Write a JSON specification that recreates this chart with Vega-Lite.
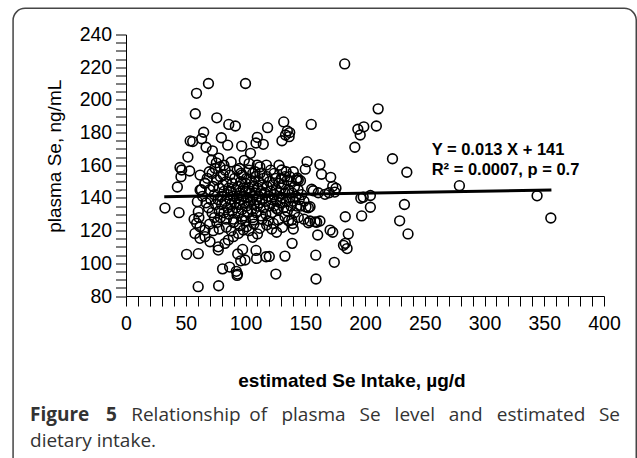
{
  "$schema": "https://vega.github.io/schema/vega-lite/v6.json",
  "autosize": {"type": "none"},
  "width": 478,
  "height": 261.5,
  "padding": {"left": 126, "top": 34.5, "right": 33, "bottom": 162},
  "background": "white",
  "config": {"view": {"stroke": null}, "font": "Liberation Sans"},
  "resolve": {"axis": {"x": "independent", "y": "independent"}},
  "datasets": {
    "pts": [
      {"intake":183,"plasma":222},{"intake":69,"plasma":210},{"intake":100,"plasma":210},{"intake":59,"plasma":204},{"intake":58,"plasma":191.5},{"intake":76,"plasma":189},{"intake":86,"plasma":185},{"intake":91.5,"plasma":184},{"intake":118.5,"plasma":183},{"intake":132,"plasma":186.5},{"intake":135,"plasma":181},{"intake":133.5,"plasma":178.5},{"intake":136.5,"plasma":177.5},{"intake":130.5,"plasma":175},{"intake":137,"plasma":180},{"intake":155,"plasma":185},{"intake":211,"plasma":194.5},{"intake":209.5,"plasma":184},{"intake":194,"plasma":182},{"intake":199,"plasma":183.5},{"intake":196,"plasma":178.5},{"intake":191.5,"plasma":171},{"intake":223,"plasma":164},{"intake":235,"plasma":155.7},{"intake":279,"plasma":147.5},{"intake":344,"plasma":141.3},{"intake":355.5,"plasma":127.7},{"intake":233,"plasma":136},{"intake":229,"plasma":126},{"intake":236,"plasma":118},{"intake":204.5,"plasma":141.5},{"intake":196.5,"plasma":139.8},{"intake":198.5,"plasma":140.5},{"intake":204.5,"plasma":134.3},{"intake":197.2,"plasma":129},{"intake":183.5,"plasma":128.5},{"intake":186,"plasma":118},{"intake":183.5,"plasma":112.2},{"intake":182,"plasma":111},{"intake":185,"plasma":109},{"intake":158.8,"plasma":105},{"intake":159,"plasma":90.4},{"intake":174.3,"plasma":100.6},{"intake":160.4,"plasma":117.3},{"intake":170.8,"plasma":120.3},{"intake":173,"plasma":119},{"intake":65,"plasma":180.2},{"intake":53.7,"plasma":174.9},{"intake":55.8,"plasma":174.5},{"intake":63.3,"plasma":176.2},{"intake":79.8,"plasma":176.8},{"intake":85.1,"plasma":172.3},{"intake":67,"plasma":171},{"intake":72.3,"plasma":168.8},{"intake":96.8,"plasma":171.7},{"intake":104.2,"plasma":167.3},{"intake":109.9,"plasma":177.1},{"intake":108.8,"plasma":173.6},{"intake":114.9,"plasma":172.8},{"intake":51.8,"plasma":165},{"intake":77.5,"plasma":164.4},{"intake":71.7,"plasma":163.2},{"intake":75.6,"plasma":161.5},{"intake":45.2,"plasma":158.6},{"intake":46.6,"plasma":157.1},{"intake":53.3,"plasma":156.5},{"intake":46,"plasma":153},{"intake":117.5,"plasma":160.1},{"intake":109.9,"plasma":160.1},{"intake":43,"plasma":146.7},{"intake":32.6,"plasma":133.8},{"intake":44.4,"plasma":131},{"intake":50.7,"plasma":105.5},{"intake":60.5,"plasma":105.9},{"intake":60.4,"plasma":85.7},{"intake":77.5,"plasma":86.3},{"intake":80.8,"plasma":96.6},{"intake":86.7,"plasma":97.7},{"intake":92.3,"plasma":95.1},{"intake":93.3,"plasma":93.4},{"intake":93,"plasma":92.6},{"intake":93.5,"plasma":105.7},{"intake":97.6,"plasma":108.5},{"intake":99.6,"plasma":102},{"intake":96,"plasma":101.5},{"intake":108.8,"plasma":107.9},{"intake":109.3,"plasma":103},{"intake":117.2,"plasma":104},{"intake":119.9,"plasma":104.2},{"intake":125.4,"plasma":93.4},{"intake":133,"plasma":104.4},{"intake":139,"plasma":112.2},{"intake":151.5,"plasma":162.2},{"intake":150,"plasma":157.6},{"intake":162.3,"plasma":160.4},{"intake":163.6,"plasma":154.5},{"intake":171.3,"plasma":152.6},{"intake":173,"plasma":147.1},{"intake":175.7,"plasma":145.9},{"intake":174.7,"plasma":143.6},{"intake":155.4,"plasma":145.3},{"intake":156.7,"plasma":144.4},{"intake":160.9,"plasma":143.2},{"intake":166.5,"plasma":142.2},{"intake":170,"plasma":143.2},{"intake":150.6,"plasma":134.4},{"intake":152.6,"plasma":134},{"intake":154,"plasma":134.6},{"intake":149,"plasma":127},{"intake":152.6,"plasma":124.8},{"intake":154,"plasma":125.9},{"intake":158.2,"plasma":125.4},{"intake":146,"plasma":150.5},{"intake":144.2,"plasma":151},{"intake":143.4,"plasma":152.2},
      {"intake":57.7,"plasma":118.3},{"intake":61.9,"plasma":115.3},{"intake":66.1,"plasma":116.3},{"intake":70.3,"plasma":113.2},{"intake":77.2,"plasma":110.1},{"intake":77.2,"plasma":108.1},{"intake":82.8,"plasma":112.2},{"intake":85.6,"plasma":114.2},{"intake":89.8,"plasma":116.3},{"intake":94,"plasma":118.3},{"intake":98.2,"plasma":120.4},{"intake":101,"plasma":122.4},{"intake":106.5,"plasma":126.5},{"intake":96.8,"plasma":126.9},{"intake":106,"plasma":115.9},{"intake":112,"plasma":121.4},{"intake":117.7,"plasma":123.4},{"intake":123.3,"plasma":124.4},{"intake":127.5,"plasma":126.5},{"intake":133,"plasma":128.5},{"intake":139.5,"plasma":124.4},{"intake":144.2,"plasma":128.1},{"intake":59.1,"plasma":124.5},{"intake":60.5,"plasma":131.6},{"intake":59.7,"plasma":137.7},{"intake":61.9,"plasma":122.4},{"intake":66.1,"plasma":120.4},{"intake":162.3,"plasma":125.9},{"intake":159.6,"plasma":125.1},{"intake":138.7,"plasma":126.5},{"intake":126,"plasma":133.6},{"intake":78.7,"plasma":159.1},{"intake":81.4,"plasma":154},{"intake":96.2,"plasma":155.1},{"intake":108,"plasma":156},{"intake":130.3,"plasma":157.1},{"intake":142.8,"plasma":151},{"intake":133,"plasma":153},
      {"intake":62,"plasma":144.9},{"intake":66.1,"plasma":149},{"intake":62,"plasma":154},{"intake":69.7,"plasma":156},{"intake":74.5,"plasma":158.1},{"intake":57,"plasma":127},{"intake":61,"plasma":128},{"intake":146,"plasma":135},{"intake":147,"plasma":142},{"intake":149,"plasma":138},
      {"intake":70,"plasma":124},{"intake":73,"plasma":120},{"intake":78,"plasma":121},{"intake":84,"plasma":122},{"intake":88,"plasma":120},{"intake":90,"plasma":125},{"intake":95,"plasma":123},{"intake":100,"plasma":126},{"intake":103,"plasma":120},{"intake":107,"plasma":124},{"intake":110,"plasma":118},{"intake":114,"plasma":127},{"intake":119,"plasma":126},{"intake":122,"plasma":121},{"intake":126,"plasma":119},{"intake":131,"plasma":122},{"intake":136,"plasma":126},{"intake":140,"plasma":121},
      {"intake":82,"plasma":160},{"intake":88,"plasma":162},{"intake":95,"plasma":158},{"intake":99,"plasma":163},{"intake":103,"plasma":161},{"intake":106,"plasma":155},{"intake":112,"plasma":159},{"intake":121,"plasma":157},{"intake":124,"plasma":155},{"intake":128,"plasma":160},{"intake":134,"plasma":156},{"intake":137,"plasma":153},{"intake":140,"plasma":156},
      {"intake":63,"plasma":145},{"intake":64,"plasma":141},{"intake":66,"plasma":149},{"intake":68,"plasma":152},{"intake":67,"plasma":137},{"intake":69,"plasma":134},{"intake":70,"plasma":145},{"intake":71,"plasma":139},{"intake":72,"plasma":131},{"intake":72,"plasma":155},{"intake":73,"plasma":147},{"intake":74,"plasma":128},{"intake":74,"plasma":142},{"intake":75,"plasma":136},{"intake":76,"plasma":151},{"intake":76,"plasma":125},{"intake":77,"plasma":139},{"intake":78,"plasma":146},{"intake":78,"plasma":132},{"intake":79,"plasma":153},{"intake":79,"plasma":128},{"intake":80,"plasma":141},{"intake":80,"plasma":136},{"intake":81,"plasma":148},{"intake":82,"plasma":131},{"intake":82,"plasma":144},{"intake":83,"plasma":138},{"intake":83,"plasma":157},{"intake":84,"plasma":127},{"intake":84,"plasma":150},{"intake":85,"plasma":134},{"intake":85,"plasma":142},{"intake":86,"plasma":146},{"intake":86,"plasma":130},{"intake":87,"plasma":139},{"intake":87,"plasma":154},{"intake":88,"plasma":136},{"intake":88,"plasma":144},{"intake":89,"plasma":132},{"intake":89,"plasma":149},{"intake":90,"plasma":141},{"intake":90,"plasma":127},{"intake":91,"plasma":137},{"intake":91,"plasma":152},{"intake":92,"plasma":145},{"intake":92,"plasma":134},{"intake":93,"plasma":140},{"intake":93,"plasma":157},{"intake":94,"plasma":131},{"intake":94,"plasma":147},{"intake":95,"plasma":143},{"intake":95,"plasma":136},{"intake":96,"plasma":150},{"intake":96,"plasma":139},{"intake":97,"plasma":133},{"intake":97,"plasma":154},{"intake":98,"plasma":146},{"intake":98,"plasma":141},{"intake":99,"plasma":137},{"intake":99,"plasma":129},{"intake":100,"plasma":149},{"intake":100,"plasma":144},{"intake":101,"plasma":135},{"intake":101,"plasma":152},{"intake":102,"plasma":140},{"intake":102,"plasma":131},{"intake":103,"plasma":146},{"intake":103,"plasma":157},{"intake":104,"plasma":138},{"intake":104,"plasma":143},{"intake":105,"plasma":133},{"intake":105,"plasma":150},{"intake":106,"plasma":141},{"intake":106,"plasma":128},{"intake":107,"plasma":147},{"intake":107,"plasma":136},{"intake":108,"plasma":153},{"intake":108,"plasma":143},{"intake":109,"plasma":139},{"intake":109,"plasma":131},{"intake":110,"plasma":146},{"intake":110,"plasma":135},{"intake":111,"plasma":150},{"intake":111,"plasma":141},{"intake":112,"plasma":137},{"intake":112,"plasma":155},{"intake":113,"plasma":144},{"intake":113,"plasma":129},{"intake":114,"plasma":148},{"intake":114,"plasma":139},{"intake":115,"plasma":134},{"intake":115,"plasma":152},{"intake":116,"plasma":143},{"intake":117,"plasma":138},{"intake":117,"plasma":130},{"intake":118,"plasma":147},{"intake":118,"plasma":153},{"intake":119,"plasma":141},{"intake":120,"plasma":135},{"intake":120,"plasma":150},{"intake":121,"plasma":144},{"intake":122,"plasma":139},{"intake":122,"plasma":131},{"intake":123,"plasma":148},{"intake":124,"plasma":142},{"intake":124,"plasma":135},{"intake":125,"plasma":152},{"intake":126,"plasma":138},{"intake":126,"plasma":145},{"intake":127,"plasma":133},{"intake":128,"plasma":149},{"intake":128,"plasma":141},{"intake":129,"plasma":137},{"intake":130,"plasma":146},{"intake":130,"plasma":152},{"intake":131,"plasma":140},{"intake":132,"plasma":134},{"intake":132,"plasma":148},{"intake":133,"plasma":143},{"intake":134,"plasma":138},{"intake":135,"plasma":151},{"intake":135,"plasma":132},{"intake":136,"plasma":145},{"intake":137,"plasma":140},{"intake":138,"plasma":135},{"intake":138,"plasma":150},{"intake":139,"plasma":143},{"intake":140,"plasma":138},{"intake":141,"plasma":131},{"intake":141,"plasma":147},{"intake":142,"plasma":141},{"intake":143,"plasma":135},{"intake":144,"plasma":145},{"intake":145,"plasma":139}
    ],
    "fit": [{"intake": 32, "plasma": 140.8}, {"intake": 356, "plasma": 144.9}]
  },
  "layer": [
    {
      "data": {"name": "pts"},
      "mark": {"type": "point", "shape": "circle", "filled": false, "stroke": "black", "strokeWidth": 1.6, "size": 95, "opacity": 1},
      "encoding": {
        "x": {
          "field": "intake", "type": "quantitative",
          "scale": {"domain": [0, 400], "nice": false, "zero": false},
          "axis": {
            "orient": "bottom",
            "values": [0,10,20,30,40,50,60,70,80,90,100,110,120,130,140,150,160,170,180,190,200,210,220,230,240,250,260,270,280,290,300,310,320,330,340,350,360,370,380,390,400],
            "labelExpr": "datum.value % 50 === 0 ? datum.label : ''",
            "tickSize": 10,
            "encode": {"ticks": {"update": {"y2": {"signal": "datum.value % 50 === 0 ? 10 : 5"}}}},
            "labelPadding": 8.5,
            "labelFont": "Liberation Sans", "labelFontSize": 19.5, "labelColor": "black",
            "labelOverlap": false, "labelFlush": false, "labelBound": false,
            "domainColor": "black", "domainWidth": 1, "tickColor": "black", "tickWidth": 1, "grid": false,
            "title": "estimated Se Intake, µg/d",
            "titleFont": "Liberation Sans", "titleFontSize": 19, "titleFontWeight": "bold", "titleColor": "black",
            "titleX": 225.5, "titleY": 90.5, "titleAlign": "center", "titleBaseline": "alphabetic"
          }
        },
        "y": {
          "field": "plasma", "type": "quantitative",
          "scale": {"domain": [80, 240], "nice": false, "zero": false},
          "axis": {
            "orient": "left",
            "values": [80,85,90,95,100,105,110,115,120,125,130,135,140,145,150,155,160,165,170,175,180,185,190,195,200,205,210,215,220,225,230,235,240],
            "labelExpr": "datum.value % 20 === 0 ? datum.label : ''",
            "tickSize": 10.5,
            "encode": {"ticks": {"update": {"x2": {"signal": "datum.value % 20 === 0 ? -10.5 : -5.5"}}}},
            "labelPadding": 3.8,
            "labelFont": "Liberation Sans", "labelFontSize": 19.5, "labelColor": "black",
            "labelOverlap": false, "labelFlush": false, "labelBound": false,
            "domainColor": "black", "domainWidth": 1, "tickColor": "black", "tickWidth": 1, "grid": false,
            "title": "plasma Se, ng/mL",
            "titleFont": "Liberation Sans", "titleFontSize": 19, "titleFontWeight": "normal", "titleColor": "black",
            "titleX": -66, "titleY": 121.3, "titleAngle": -90, "titleAlign": "center", "titleBaseline": "alphabetic"
          }
        }
      }
    },
    {
      "data": {"values": [{}]},
      "mark": {"type": "rect", "filled": false, "stroke": "#454545", "strokeWidth": 1.5, "cornerRadius": 12},
      "encoding": {
        "x": {"datum": -94.5, "type": "quantitative", "scale": {"domain": [0, 400], "nice": false, "zero": false}, "axis": null},
        "x2": {"datum": 427},
        "y": {"datum": 256, "type": "quantitative", "scale": {"domain": [80, 240], "nice": false, "zero": false}, "axis": null},
        "y2": {"datum": -30}
      }
    },
    {
      "data": {"name": "fit"},
      "mark": {"type": "line", "color": "black", "strokeWidth": 3},
      "encoding": {
        "x": {"field": "intake", "type": "quantitative", "scale": {"domain": [0, 400], "nice": false, "zero": false}, "axis": null},
        "y": {"field": "plasma", "type": "quantitative", "scale": {"domain": [80, 240], "nice": false, "zero": false}, "axis": null}
      }
    },
    {
      "data": {"values": [{}]},
      "mark": {"type": "text", "text": ["Y = 0.013 X + 141", "R² = 0.0007, p = 0.7"], "align": "left", "baseline": "alphabetic", "font": "Liberation Sans", "fontSize": 16.5, "fontWeight": "bold", "color": "black", "lineHeight": 20},
      "encoding": {
        "x": {"datum": 255.8, "type": "quantitative", "scale": {"domain": [0, 400], "nice": false, "zero": false}, "axis": null},
        "y": {"datum": 166.3, "type": "quantitative", "scale": {"domain": [80, 240], "nice": false, "zero": false}, "axis": null}
      }
    },
    {"data": {"values": [{}]}, "mark": {"type": "text", "text": "Figure", "align": "left", "baseline": "alphabetic", "font": "Open Sans", "fontSize": 19, "fontWeight": "bold", "color": "#333333"},
     "encoding": {"x": {"datum": -80.33, "type": "quantitative", "scale": {"domain": [0, 400], "nice": false, "zero": false}, "axis": null}, "y": {"datum": 3.5, "type": "quantitative", "scale": {"domain": [80, 240], "nice": false, "zero": false}, "axis": null}}},
    {"data": {"values": [{}]}, "mark": {"type": "text", "text": "5", "align": "left", "baseline": "alphabetic", "font": "Open Sans", "fontSize": 19, "fontWeight": "bold", "color": "#333333"},
     "encoding": {"x": {"datum": -16.65, "type": "quantitative", "scale": {"domain": [0, 400], "nice": false, "zero": false}, "axis": null}, "y": {"datum": 3.5, "type": "quantitative", "scale": {"domain": [80, 240], "nice": false, "zero": false}, "axis": null}}},
    {"data": {"values": [{}]}, "mark": {"type": "text", "text": "Relationship", "align": "left", "baseline": "alphabetic", "font": "Open Sans", "fontSize": 19, "color": "#333333"},
     "encoding": {"x": {"datum": 4.35, "type": "quantitative", "scale": {"domain": [0, 400], "nice": false, "zero": false}, "axis": null}, "y": {"datum": 3.5, "type": "quantitative", "scale": {"domain": [80, 240], "nice": false, "zero": false}, "axis": null}}},
    {"data": {"values": [{}]}, "mark": {"type": "text", "text": "of", "align": "left", "baseline": "alphabetic", "font": "Open Sans", "fontSize": 19, "color": "#333333"},
     "encoding": {"x": {"datum": 103.18, "type": "quantitative", "scale": {"domain": [0, 400], "nice": false, "zero": false}, "axis": null}, "y": {"datum": 3.5, "type": "quantitative", "scale": {"domain": [80, 240], "nice": false, "zero": false}, "axis": null}}},
    {"data": {"values": [{}]}, "mark": {"type": "text", "text": "plasma", "align": "left", "baseline": "alphabetic", "font": "Open Sans", "fontSize": 19, "color": "#333333"},
     "encoding": {"x": {"datum": 130.04, "type": "quantitative", "scale": {"domain": [0, 400], "nice": false, "zero": false}, "axis": null}, "y": {"datum": 3.5, "type": "quantitative", "scale": {"domain": [80, 240], "nice": false, "zero": false}, "axis": null}}},
    {"data": {"values": [{}]}, "mark": {"type": "text", "text": "Se", "align": "left", "baseline": "alphabetic", "font": "Open Sans", "fontSize": 19, "color": "#333333"},
     "encoding": {"x": {"datum": 195.4, "type": "quantitative", "scale": {"domain": [0, 400], "nice": false, "zero": false}, "axis": null}, "y": {"datum": 3.5, "type": "quantitative", "scale": {"domain": [80, 240], "nice": false, "zero": false}, "axis": null}}},
    {"data": {"values": [{}]}, "mark": {"type": "text", "text": "level", "align": "left", "baseline": "alphabetic", "font": "Open Sans", "fontSize": 19, "color": "#333333"},
     "encoding": {"x": {"datum": 224.77, "type": "quantitative", "scale": {"domain": [0, 400], "nice": false, "zero": false}, "axis": null}, "y": {"datum": 3.5, "type": "quantitative", "scale": {"domain": [80, 240], "nice": false, "zero": false}, "axis": null}}},
    {"data": {"values": [{}]}, "mark": {"type": "text", "text": "and", "align": "left", "baseline": "alphabetic", "font": "Open Sans", "fontSize": 19, "color": "#333333"},
     "encoding": {"x": {"datum": 270.04, "type": "quantitative", "scale": {"domain": [0, 400], "nice": false, "zero": false}, "axis": null}, "y": {"datum": 3.5, "type": "quantitative", "scale": {"domain": [80, 240], "nice": false, "zero": false}, "axis": null}}},
    {"data": {"values": [{}]}, "mark": {"type": "text", "text": "estimated", "align": "left", "baseline": "alphabetic", "font": "Open Sans", "fontSize": 19, "color": "#333333"},
     "encoding": {"x": {"datum": 310.3, "type": "quantitative", "scale": {"domain": [0, 400], "nice": false, "zero": false}, "axis": null}, "y": {"datum": 3.5, "type": "quantitative", "scale": {"domain": [80, 240], "nice": false, "zero": false}, "axis": null}}},
    {"data": {"values": [{}]}, "mark": {"type": "text", "text": "Se", "align": "right", "baseline": "alphabetic", "font": "Open Sans", "fontSize": 19, "color": "#333333"},
     "encoding": {"x": {"datum": 413.4, "type": "quantitative", "scale": {"domain": [0, 400], "nice": false, "zero": false}, "axis": null}, "y": {"datum": 3.5, "type": "quantitative", "scale": {"domain": [80, 240], "nice": false, "zero": false}, "axis": null}}},
    {"data": {"values": [{}]}, "mark": {"type": "text", "text": "dietary intake.", "align": "left", "baseline": "alphabetic", "font": "Open Sans", "fontSize": 19, "color": "#333333"},
     "encoding": {"x": {"datum": -80.33, "type": "quantitative", "scale": {"domain": [0, 400], "nice": false, "zero": false}, "axis": null}, "y": {"datum": -12.4, "type": "quantitative", "scale": {"domain": [80, 240], "nice": false, "zero": false}, "axis": null}}}
  ]
}
